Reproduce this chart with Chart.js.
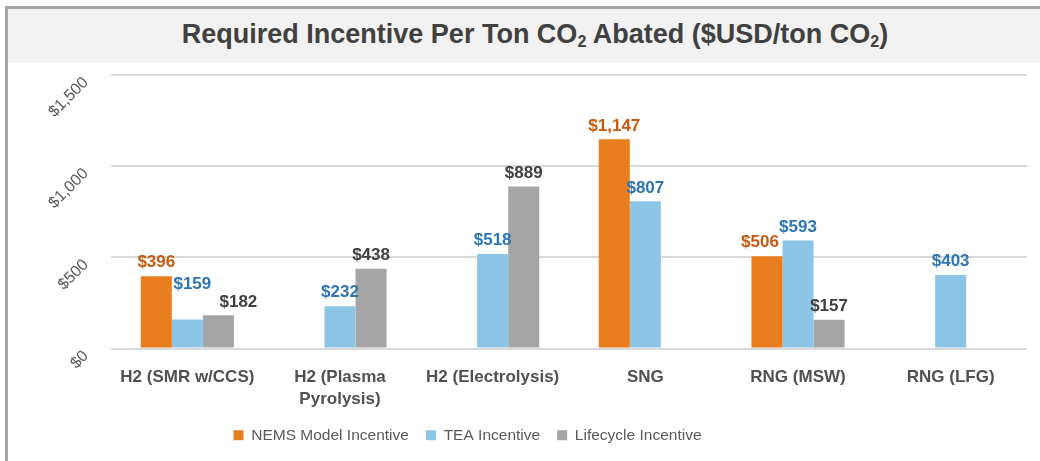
<!DOCTYPE html>
<html>
<head>
<meta charset="utf-8">
<script src="https://cdn.jsdelivr.net/npm/chart.js@4"></script>
<style>
  body { margin: 0; width: 1040px; height: 461px; background: #fff; overflow: hidden; position: relative; }
  #frame { position: absolute; left: 5px; top: 6px; width: 1040px; height: 470px; border-left: 3px solid #a6a6a6; border-top: 3px solid #a6a6a6; }
  #title { position: absolute; left: 8px; top: 9px; width: 1010px; padding-left: 22px; height: 54px; background: #f2f2f2;
    font-family: "Liberation Sans", Arial, sans-serif; font-weight: bold; font-size: 27px;
    color: #404040; text-align: center; line-height: 50px; }
  #title sub { font-size: 16px; vertical-align: -4px; line-height: 0; }
  #chart { position: absolute; left: 8px; top: 63px; }
</style>
</head>
<body>
<div id="frame"></div>
<div id="title">Required Incentive Per Ton CO<sub>2</sub> Abated ($USD/ton CO<sub>2</sub>)</div>
<canvas id="chart" width="1032" height="398"></canvas>
<script>
// Data
const categories = [
    'H2 (SMR w/CCS)',
    ['H2 (Plasma', 'Pyrolysis)'],
    'H2 (Electrolysis)',
    'SNG',
    'RNG (MSW)',
    'RNG (LFG)'
];
const nemsIncentive = [396, null, null, 1147, 506, null];
const teaIncentive = [159, 232, 518, 807, 593, 403];
const lifecycleIncentive = [182, 438, 889, null, 157, null];
const yTicks = [0, 500, 1000, 1500];

const money = v => '$' + Number(v).toLocaleString('en-US');

// Value labels above bars (Excel style)
const barLabels = {
    id: 'barLabels',
    afterDatasetsDraw(chart, args, opts) {
        const ctx = chart.ctx;
        ctx.save();
        ctx.font = 'bold 17px "Liberation Sans", Arial, sans-serif';
        ctx.textAlign = 'center';
        ctx.textBaseline = 'bottom';
        chart.data.datasets.forEach((ds, di) => {
            const meta = chart.getDatasetMeta(di);
            meta.data.forEach((bar, i) => {
                const v = ds.data[i];
                if (v === null || v === undefined) return;
                const nudge = (opts.nudge[di] && opts.nudge[di][i]) || [0, 0];
                ctx.fillStyle = opts.colors[di];
                ctx.fillText(money(v), bar.x + nudge[0], bar.y - 5 + nudge[1]);
            });
        });
        ctx.restore();
    }
};

// Legend sits a bit left of centre in the original
const legendShift = {
    id: 'legendShift',
    afterLayout(chart, args, opts) {
        chart.legend.left += opts.dx;
        chart.legend.right += opts.dx;
    }
};

new Chart(document.getElementById('chart').getContext('2d'), {
    type: 'bar',
    data: {
        labels: categories,
        datasets: [
            { label: 'NEMS Model Incentive', data: nemsIncentive, backgroundColor: '#E97E1F' },
            { label: 'TEA Incentive', data: teaIncentive, backgroundColor: '#8DC5E5' },
            { label: 'Lifecycle Incentive', data: lifecycleIncentive, backgroundColor: '#A5A5A5' }
        ]
    },
    plugins: [barLabels, legendShift],
    options: {
        responsive: false,
        animation: false,
        datasets: {
            bar: { categoryPercentage: 0.61, barPercentage: 1.0 }
        },
        layout: { padding: { left: 0, right: 13, top: 12, bottom: 8 } },
        plugins: {
            tooltip: { enabled: false },
            legendShift: { dx: -50 },
            barLabels: {
                colors: ['#C55A11', '#2E75B6', '#404040'],
                nudge: { 1: { 0: [5, -22] }, 2: { 0: [20, 0] }, 0: { 4: [-7, 0] } }
            },
            legend: {
                position: 'bottom',
                labels: {
                    boxWidth: 10,
                    boxHeight: 10,
                    padding: 17,
                    color: '#595959',
                    font: { family: '"Liberation Sans", Arial, sans-serif', size: 15.5 }
                }
            }
        },
        scales: {
            x: {
                grid: { display: false },
                border: { display: false },
                ticks: {
                    color: '#505050',
                    padding: 10,
                    maxRotation: 0,
                    font: { family: '"Liberation Sans", Arial, sans-serif', size: 17, weight: 'bold', lineHeight: 1.3 }
                },
                afterFit(scale) { scale.height = 62; }
            },
            y: {
                min: 0,
                max: 1500,
                afterBuildTicks(scale) { scale.ticks = yTicks.map(v => ({ value: v })); },
                grid: { color: '#d9d9d9', lineWidth: 2, drawTicks: false },
                border: { display: false },
                ticks: {
                    color: '#595959',
                    padding: 25,
                    labelOffset: 5,
                    minRotation: 45,
                    maxRotation: 45,
                    font: { family: '"Liberation Sans", Arial, sans-serif', size: 16 },
                    callback: v => money(v)
                },
                afterFit(scale) {
                    scale.width = 103;
                    scale.paddingTop = 0;
                    scale.paddingBottom = 0;
                }
            }
        }
    }
});
</script>
</body>
</html>
